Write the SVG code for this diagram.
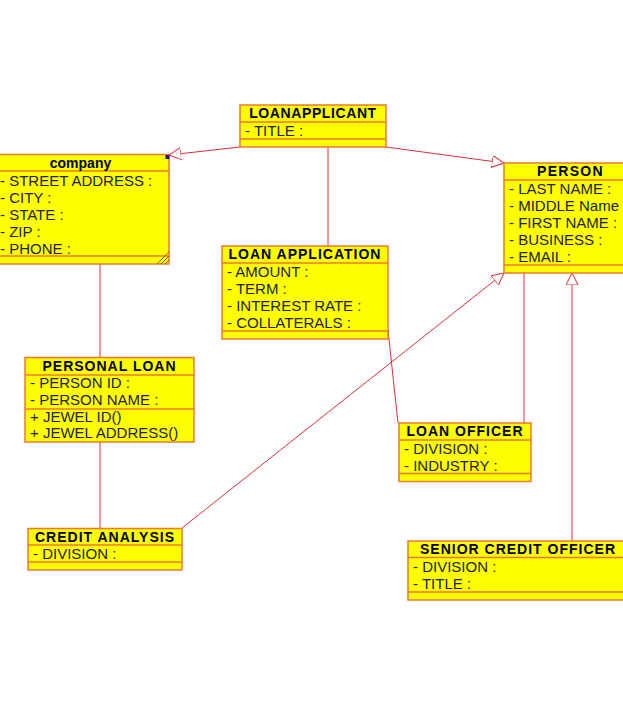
<svg xmlns="http://www.w3.org/2000/svg" width="623" height="708" viewBox="0 0 623 708">
<defs>
<style>
.box{fill:#FFFF00;stroke:#EE7733;stroke-width:1.5}
.sep{stroke:#EE7733;stroke-width:1.5;fill:none}
.title{font-family:"Liberation Sans",Arial,sans-serif;font-size:14px;font-weight:bold;fill:#000;text-anchor:middle;letter-spacing:1px}
.attr{font-family:"Liberation Sans",Arial,sans-serif;font-size:15px;fill:#222}
.conn{stroke:#DD2E3A;stroke-width:1;fill:none}
</style>
<marker id="tri" markerUnits="userSpaceOnUse" markerWidth="14" markerHeight="14" refX="12" refY="6" orient="auto">
<path d="M0,0 L12,6 L0,12 Z" fill="#fff" stroke="#DD2E3A" stroke-width="1"/>
</marker>
</defs>
<rect width="623" height="708" fill="#fff"/>

<g id="connectors">
<path class="conn" d="M240,147 L169,155" marker-end="url(#tri)"/>
<path class="conn" d="M386,147 L504,163" marker-end="url(#tri)"/>
<path class="conn" d="M328,147 L328,246"/>
<path class="conn" d="M100,264 L100,357"/>
<path class="conn" d="M100,442 L100,528"/>
<path class="conn" d="M182,528 L504,273" marker-end="url(#tri)"/>
<path class="conn" d="M388,330 L398,423"/>
<path class="conn" d="M524,273 L524,423"/>
<path class="conn" d="M572,541 L572,273" marker-end="url(#tri)"/>
</g>

<g id="loanapplicant">
<rect class="box" x="240" y="105" width="146" height="42"/>
<line class="sep" x1="240" y1="122" x2="386" y2="122"/>
<line class="sep" x1="240" y1="139" x2="386" y2="139"/>
<text class="title" x="313" y="118" style="letter-spacing:0.6px">LOANAPPLICANT</text>
<text class="attr" x="245" y="136">- TITLE :</text>
</g>

<g id="company">
<rect class="box" x="-8" y="154.5" width="177" height="109.5"/>
<line class="sep" x1="-8" y1="171" x2="169" y2="171"/>
<line class="sep" x1="-8" y1="256" x2="169" y2="256"/>
<text class="title" x="80.5" y="167.5" style="letter-spacing:0">company</text>
<text class="attr" x="0" y="186">- STREET ADDRESS :</text>
<text class="attr" x="0" y="203">- CITY :</text>
<text class="attr" x="0" y="220">- STATE :</text>
<text class="attr" x="0" y="237">- ZIP :</text>
<text class="attr" x="0" y="254">- PHONE :</text>
<g stroke="#6B6B00" stroke-width="1">
<line x1="157" y1="264" x2="169" y2="252"/>
<line x1="161" y1="264" x2="169" y2="256"/>
<line x1="165" y1="264" x2="169" y2="260"/>
</g>
<rect x="165.5" y="155" width="4" height="4" fill="#1414A0"/>
</g>

<g id="person">
<rect class="box" x="504" y="163" width="132" height="110"/>
<line class="sep" x1="504" y1="180" x2="636" y2="180"/>
<line class="sep" x1="504" y1="265" x2="636" y2="265"/>
<text class="title" x="570.5" y="176" style="letter-spacing:1.3px">PERSON</text>
<text class="attr" x="509" y="193.5">- LAST NAME :</text>
<text class="attr" x="509" y="210.5">- MIDDLE Name</text>
<text class="attr" x="509" y="227.5">- FIRST NAME :</text>
<text class="attr" x="509" y="244.5">- BUSINESS :</text>
<text class="attr" x="509" y="261.5">- EMAIL :</text>
</g>

<g id="loanapplication">
<rect class="box" x="222" y="246" width="166" height="93"/>
<line class="sep" x1="222" y1="263" x2="388" y2="263"/>
<line class="sep" x1="222" y1="331" x2="388" y2="331"/>
<text class="title" x="305" y="258.5">LOAN APPLICATION</text>
<text class="attr" x="227" y="277">- AMOUNT :</text>
<text class="attr" x="227" y="294">- TERM :</text>
<text class="attr" x="227" y="311">- INTEREST RATE :</text>
<text class="attr" x="227" y="328">- COLLATERALS :</text>
</g>

<g id="personalloan">
<rect class="box" x="25" y="357.5" width="169" height="84.5"/>
<line class="sep" x1="25" y1="375" x2="194" y2="375"/>
<line class="sep" x1="25" y1="409" x2="194" y2="409"/>
<text class="title" x="109.5" y="371">PERSONAL LOAN</text>
<text class="attr" x="30" y="388">- PERSON ID :</text>
<text class="attr" x="30" y="405">- PERSON NAME :</text>
<text class="attr" x="30" y="421.5">+ JEWEL ID()</text>
<text class="attr" x="30" y="438">+ JEWEL ADDRESS()</text>
</g>

<g id="creditanalysis">
<rect class="box" x="28" y="528.5" width="154" height="41.5"/>
<line class="sep" x1="28" y1="545" x2="182" y2="545"/>
<line class="sep" x1="28" y1="562" x2="182" y2="562"/>
<text class="title" x="105" y="541.5">CREDIT ANALYSIS</text>
<text class="attr" x="33" y="558.5">- DIVISION :</text>
</g>

<g id="loanofficer">
<rect class="box" x="399" y="423" width="132" height="58.5"/>
<line class="sep" x1="399" y1="440" x2="531" y2="440"/>
<line class="sep" x1="399" y1="473.5" x2="531" y2="473.5"/>
<text class="title" x="465" y="436">LOAN OFFICER</text>
<text class="attr" x="404" y="454">- DIVISION :</text>
<text class="attr" x="404" y="471">- INDUSTRY :</text>
</g>

<g id="seniorcreditofficer">
<rect class="box" x="408" y="541" width="220" height="59"/>
<line class="sep" x1="408" y1="557.5" x2="628" y2="557.5"/>
<line class="sep" x1="408" y1="592" x2="628" y2="592"/>
<text class="title" x="518" y="554">SENIOR CREDIT OFFICER</text>
<text class="attr" x="413" y="572">- DIVISION :</text>
<text class="attr" x="413" y="589">- TITLE :</text>
</g>
</svg>
